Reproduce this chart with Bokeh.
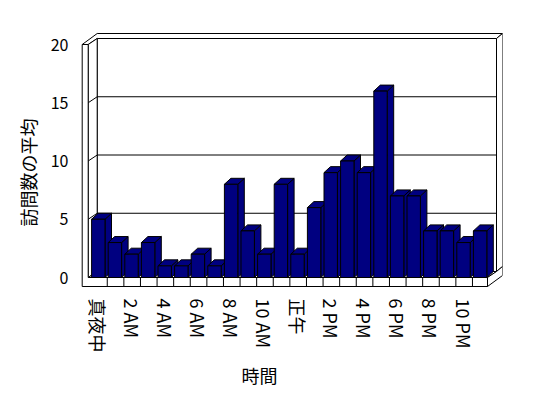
from bokeh.plotting import figure
from bokeh.models import Range1d, FixedTicker, Title
from bokeh.embed import file_html
from bokeh.resources import INLINE

# ---- data ----
hour_labels = ["真夜中", "2 AM", "4 AM", "6 AM", "8 AM", "10 AM",
               "正午", "2 PM", "4 PM", "6 PM", "8 PM", "10 PM"]
visits = [5, 3, 2, 3, 1, 1, 2, 1, 8, 4, 2, 8,
          2, 6, 9, 10, 9, 16, 7, 7, 4, 4, 3, 4]
y_ticks = [0, 5, 10, 15, 20]
y_title = "訪問数の平均"
x_title = "時間"

n = len(visits)
y_max = y_ticks[-1]

# ---- pseudo-3D geometry (pixel sizes converted to data units) ----
SX = 16.6     # px per category
SY = 11.65    # px per value unit
W = 6.7 / SX                   # bar half width
BDX, BDY = 6.5 / SX, 6.0 / SY  # bar depth
DX, DY = 9.0 / SX, 6.0 / SY    # interior depth
TX, TY = 6.0 / SX, 5.0 / SY    # back wall thickness
L_in = -10.1 / SX
L_out = L_in - 6.0 / SX
R_in = (n - 1) + 7.4 / SX
FT = 9.0 / SY                  # floor thickness
TICK_SHIFT = 0.04

FRAME_LEFT, FRAME_TOP = 80, 30
FRAME_W, FRAME_H = 422, 257
FIG_W, FIG_H = 540, 398
x0 = -(97.8 - FRAME_LEFT) / SX
y0 = -(FRAME_TOP + FRAME_H - 277) / SY

FONT = "Noto Sans CJK JP"

p = figure(width=FIG_W, height=FIG_H, output_backend="svg", toolbar_location=None,
           x_range=Range1d(x0, x0 + FRAME_W / SX),
           y_range=Range1d(y0, y0 + FRAME_H / SY),
           min_border_left=FRAME_LEFT,
           min_border_right=FIG_W - FRAME_LEFT - FRAME_W,
           min_border_top=FRAME_TOP,
           min_border_bottom=FIG_H - FRAME_TOP - FRAME_H)
p.outline_line_color = None
p.grid.visible = False
p.background_fill_color = "white"
p.border_fill_color = "white"

# ---- structure (walls + floor) ----
sx_list, sy_list = [], []

def add(poly_x, poly_y):
    sx_list.append(poly_x)
    sy_list.append(poly_y)

# back wall front face
add([L_in + DX, R_in + DX, R_in + DX, L_in + DX],
    [DY, DY, y_max + DY, y_max + DY])
# top face of walls
add([L_out, L_in, L_in + DX, R_in + DX, R_in + DX + TX, L_out + DX + TX],
    [y_max, y_max, y_max + DY, y_max + DY, y_max + DY + TY, y_max + DY + TY])
# back wall right side
add([R_in + DX, R_in + DX, R_in + DX + TX, R_in + DX + TX],
    [DY, y_max + DY, y_max + DY + TY, DY + TY])
# left wall inner face
add([L_in, L_in, L_in + DX, L_in + DX],
    [0, y_max, y_max + DY, DY])
# floor top
add([L_in, R_in, R_in + DX, L_in + DX], [0, 0, DY, DY])

p.patches(sx_list, sy_list, fill_color="white", line_color="black", line_width=1)

# gridlines on back wall + left wall
gx, gy = [], []
for v in y_ticks[1:-1]:
    gx.append([L_out, L_in, L_in + DX, R_in + DX])
    gy.append([v, v, v + DY, v + DY])
p.multi_line(gx, gy, line_color="black", line_width=1)

# front L-shaped face (left wall front + floor front) and floor right side
p.patches([[L_out, R_in, R_in, L_in, L_in, L_out],
           [R_in, R_in, R_in + DX, R_in + DX + TX, R_in + DX + TX]],
          [[-FT, -FT, 0, 0, y_max, y_max],
           [-FT, 0, DY, DY + TY, -FT + DY + TY]],
          fill_color="white", line_color="black", line_width=1)

# category dividers on floor front
tx_list = [[k + 0.5 + TICK_SHIFT, k + 0.5 + TICK_SHIFT] for k in range(n - 1)]
ty_list = [[-FT, 0] for _ in range(n - 1)]
p.multi_line(tx_list, ty_list, line_color="black", line_width=1)

# ---- bars ----
bx, by = [], []
for k, v in enumerate(visits):
    bx.append([k + W, k + W, k + W + BDX, k + W + BDX])      # side
    by.append([0, v, v + BDY, BDY])
    bx.append([k - W, k + W, k + W + BDX, k - W + BDX])      # top
    by.append([v, v, v + BDY, v + BDY])
    bx.append([k - W, k + W, k + W, k - W])                  # front
    by.append([0, 0, v, v])
p.patches(bx, by, fill_color="#000080", line_color="black", line_width=1)

# ---- axes ----
ya = p.yaxis[0]
ya.ticker = FixedTicker(ticks=y_ticks)
ya.axis_line_color = None
ya.major_tick_line_color = None
ya.minor_tick_line_color = None
ya.major_label_standoff = 6
ya.major_label_text_font = FONT
ya.major_label_text_font_size = "16px"
ya.major_label_text_color = "black"

xa = p.xaxis[0]
xa.ticker = FixedTicker(ticks=list(range(0, n, 2)))
xa.major_label_overrides = {i * 2: lab for i, lab in enumerate(hour_labels)}
xa.major_label_orientation = "vertical"
xa.axis_line_color = None
xa.major_tick_line_color = None
xa.minor_tick_line_color = None
xa.major_label_standoff = 5
xa.major_label_text_font = FONT
xa.major_label_text_font_size = "18px"
xa.major_label_text_color = "black"

# ---- axis titles ----
p.add_layout(Title(text=x_title, align="left", offset=161, standoff=8,
                   text_font=FONT, text_font_size="18px",
                   text_font_style="normal", text_color="black"), "below")
p.add_layout(Title(text=y_title, align="left", offset=61, standoff=14,
                   text_font=FONT, text_font_size="18px",
                   text_font_style="normal", text_color="black"), "left")

open("out.html", "w").write(file_html(p, INLINE))
